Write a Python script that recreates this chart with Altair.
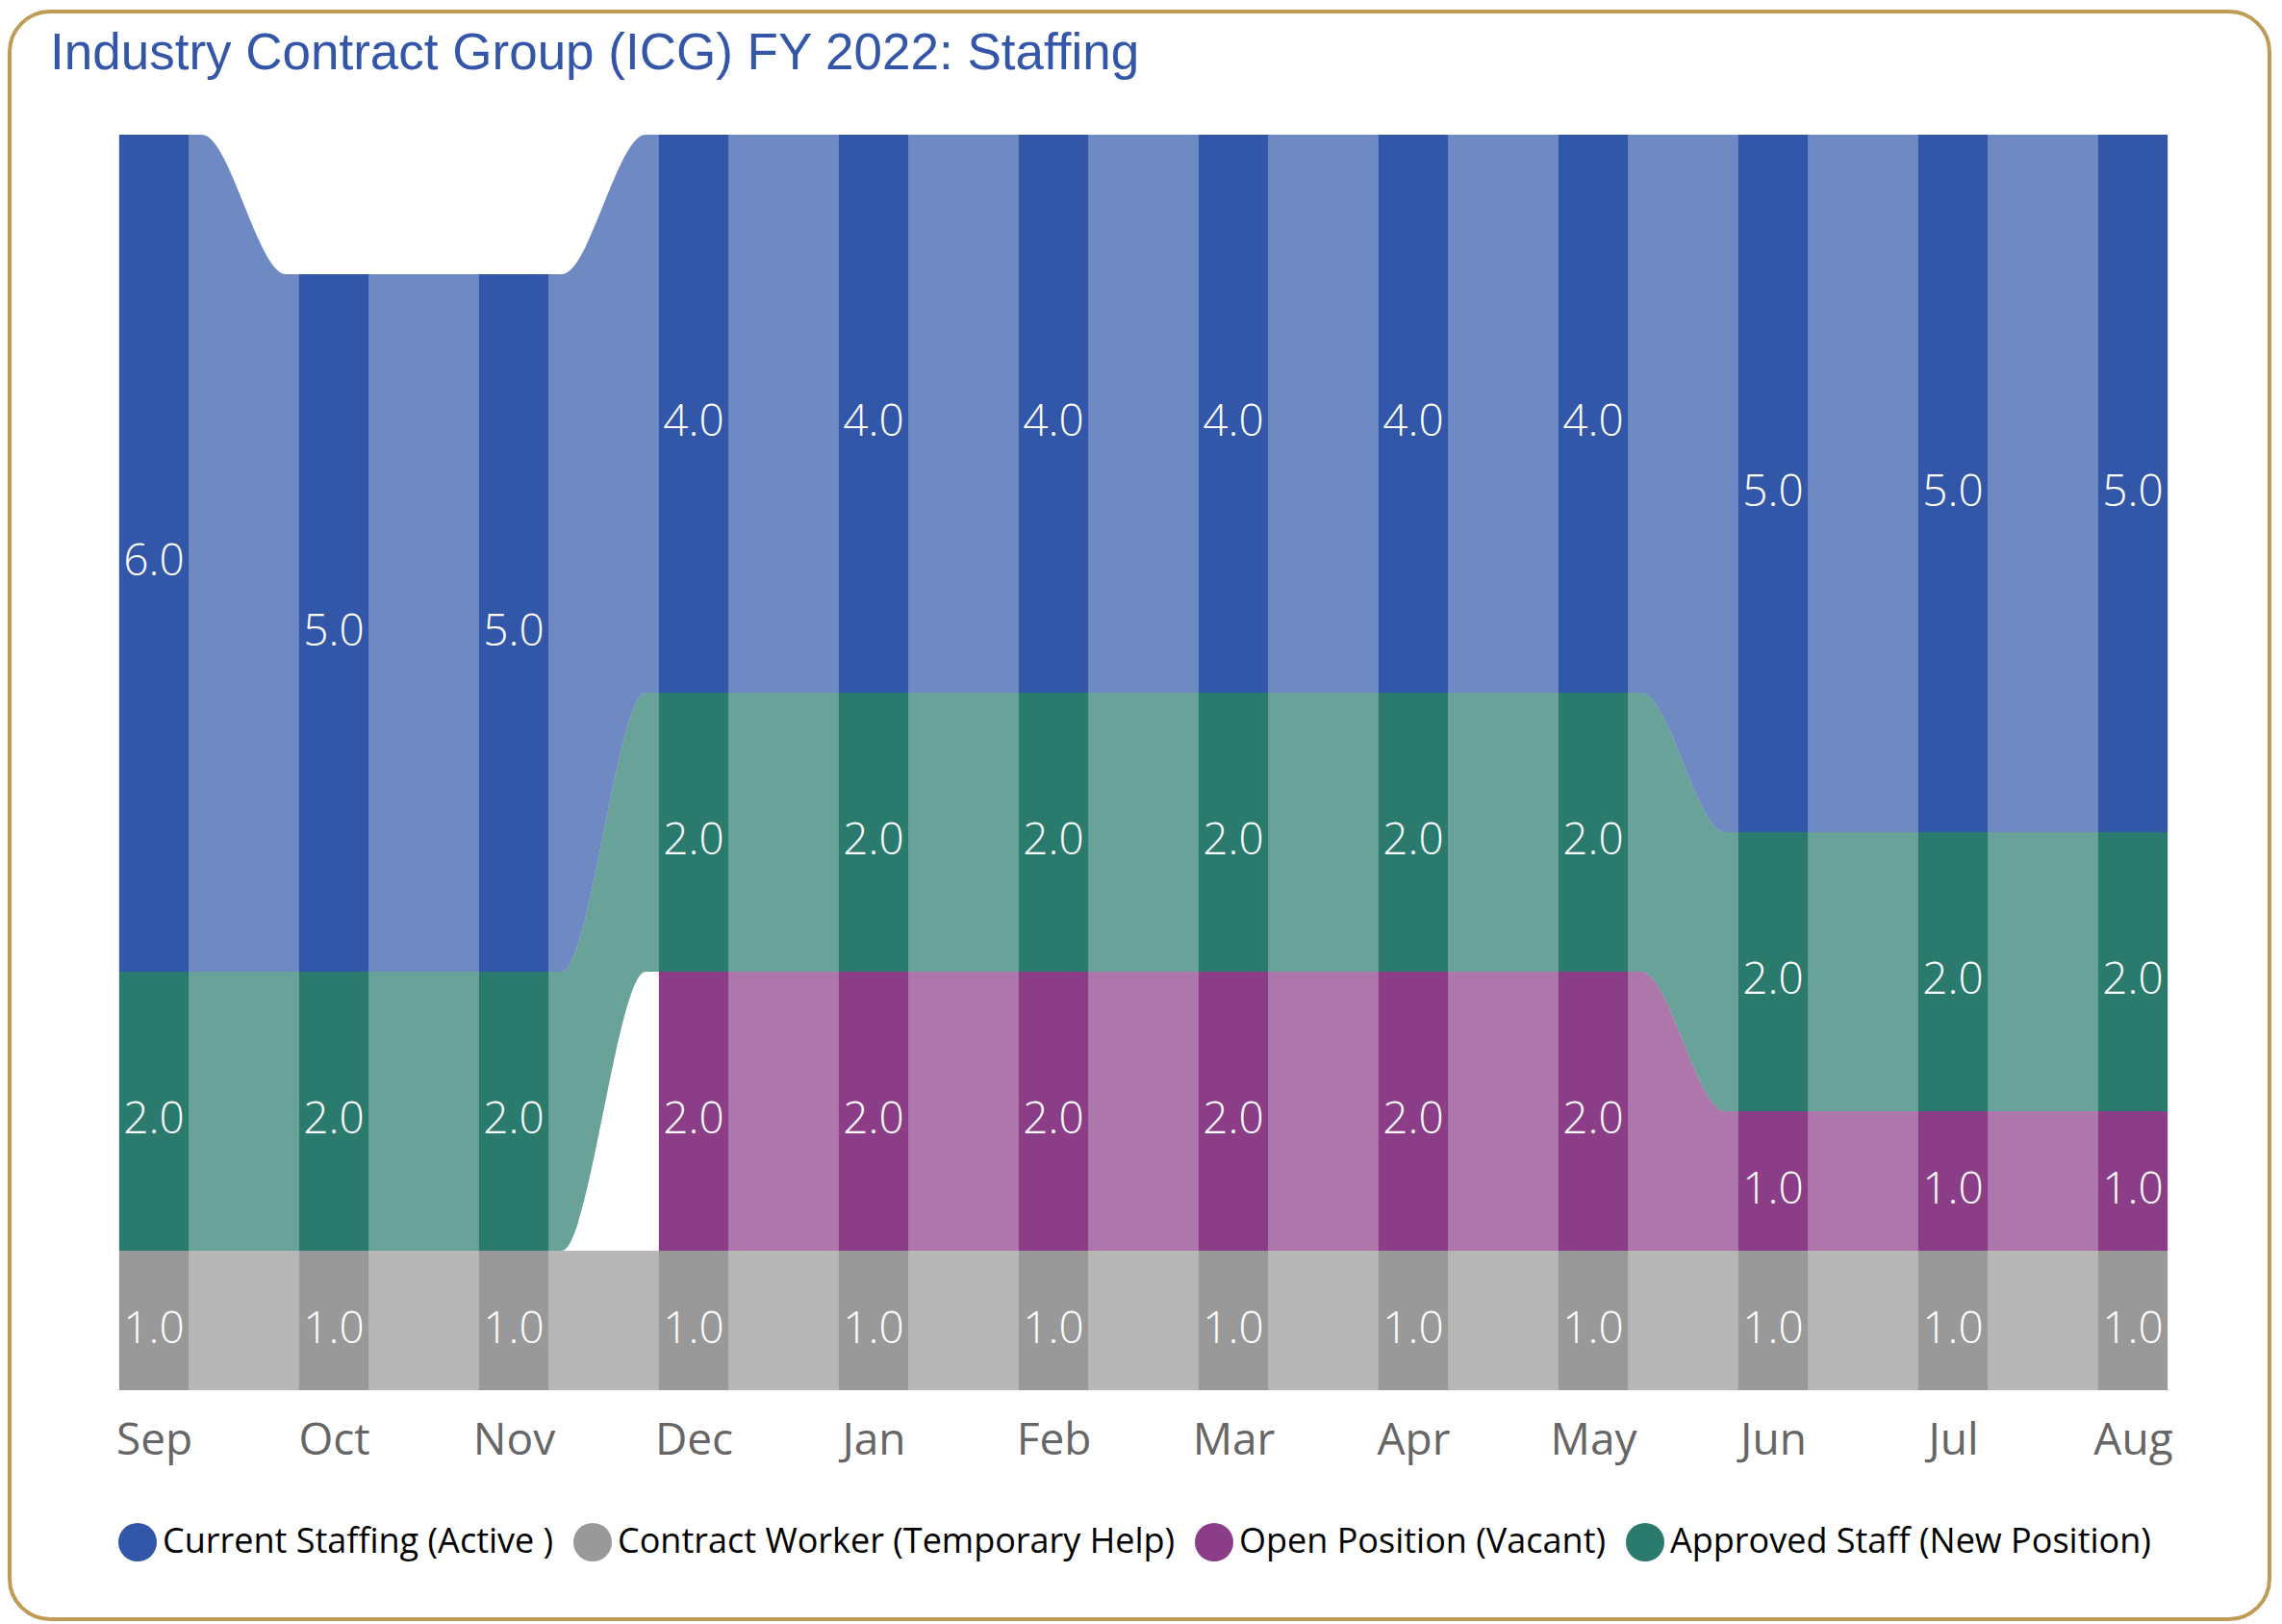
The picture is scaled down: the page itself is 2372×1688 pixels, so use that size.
import json
import altair as alt
import pandas as pd

# ---------------- data ----------------
months = ["Sep", "Oct", "Nov", "Dec", "Jan", "Feb", "Mar", "Apr", "May", "Jun", "Jul", "Aug"]
current_staffing = [6, 5, 5, 4, 4, 4, 4, 4, 4, 5, 5, 5]
contract_worker = [1, 1, 1, 1, 1, 1, 1, 1, 1, 1, 1, 1]
open_position = [None, None, None, 2, 2, 2, 2, 2, 2, 1, 1, 1]
approved_staff = [2, 2, 2, 2, 2, 2, 2, 2, 2, 2, 2, 2]

series_names = [
    "Current Staffing (Active )",
    "Contract Worker (Temporary Help)",
    "Open Position (Vacant)",
    "Approved Staff (New Position)",
]
series_colors = ["#3257A8", "#999999", "#8C3D87", "#2A7B6D"]
title_text = "Industry Contract Group (ICG) FY 2022: Staffing"

values = {
    series_names[0]: current_staffing,
    series_names[1]: contract_worker,
    series_names[2]: open_position,
    series_names[3]: approved_staff,
}
# bottom -> top stacking order
stack_order = [series_names[1], series_names[2], series_names[3], series_names[0]]

HALF = 0.193          # half bar width in month-index units
GAP = 1 - 2 * HALF    # gap between bars
INSET = 0.12 * GAP    # ribbon shoulder (flat part) at each side of a gap

bar_rows, rib_rows = [], []
for i, m in enumerate(months):
    base = 0
    for s in stack_order:
        v = values[s][i]
        if v is None:
            continue
        y0, y1 = base, base + v
        base = y1
        bar_rows.append(dict(idx=i, month=m, series=s, value=v, y0=y0, y1=y1,
                             xl=i - HALF, xr=i + HALF, ymid=(y0 + y1) / 2,
                             label=f"{v:.1f}"))
        for x in (i - HALF - INSET, i - HALF, i + HALF, i + HALF + INSET):
            if 0 - HALF <= x <= 11 + HALF:
                rib_rows.append(dict(series=s, x=x, y0=y0, y1=y1))

bars_df = pd.DataFrame(bar_rows)
rib_df = pd.DataFrame(rib_rows).sort_values(["series", "x"])
# a series that only starts later (Open Position) has no ribbon leading in
first_x = bars_df.groupby("series")["xl"].min()
rib_df = rib_df[rib_df["x"] >= rib_df["series"].map(first_x)]

W, H = 2349, 1671
xscale = alt.Scale(domain=[0, 11], range=[150, 2207], nice=False, zero=False)
yscale = alt.Scale(domain=[0, 9], range=[1433, 128], nice=False, zero=False)

color = alt.Color(
    "series:N",
    scale=alt.Scale(domain=series_names, range=series_colors),
    legend=alt.Legend(
        title=None, orient="none", direction="horizontal",
        legendX=113, legendY=1571,
        symbolType="circle", symbolSize=1600, symbolOpacity=1,
        symbolStrokeWidth=0,
        labelFont="Open Sans", labelFontSize=36, labelColor="#000000",
        labelOffset=6, columnPadding=20, labelLimit=1000,
    ),
)

label_expr = json.dumps(months) + "[round(datum.value)]"

ribbons = alt.Chart(rib_df).mark_area(interpolate="monotone", opacity=0.7).encode(
    x=alt.X("x:Q", scale=xscale,
            axis=alt.Axis(values=list(range(12)), labelExpr=label_expr, title=None,
                          grid=False, domain=False, ticks=False, tickSize=0,
                          offset=-(H - 1433), labelPadding=66,
                          labelBaseline="alphabetic", labelFlush=False,
                          labelOverlap=False,
                          labelFont="Open Sans", labelFontSize=46,
                          labelColor="#666666")),
    y=alt.Y("y0:Q", scale=yscale, axis=None, stack=None),
    y2="y1:Q",
    color=color,
)

bars = alt.Chart(bars_df).mark_bar(opacity=1).encode(
    x=alt.X("xl:Q", scale=xscale),
    x2="xr:Q",
    y=alt.Y("y0:Q", scale=yscale, stack=None),
    y2="y1:Q",
    color=color,
)

labels = alt.Chart(bars_df).mark_text(
    font="Open Sans", fontSize=46, fontWeight=300, color="white",
    align="center", baseline="middle", dy=9,
).encode(
    x=alt.X("idx:Q", scale=xscale),
    y=alt.Y("ymid:Q", scale=yscale),
    text="label:N",
)

title = alt.Chart(pd.DataFrame({"t": [title_text]})).mark_text(
    font="Liberation Sans", fontSize=53, color="#3356A8",
    align="left", baseline="alphabetic",
).encode(x=alt.value(42), y=alt.value(60), text="t:N")

chart = alt.layer(ribbons, bars, labels, title).properties(
    width=W, height=H, background="white",
    padding={"left": 2, "top": 4, "right": 2, "bottom": 2},
).configure_view(
    stroke="#BF9B56", strokeWidth=4, cornerRadius=42,
)

chart.save("out.html", embed_options={"renderer": "svg", "actions": False})
